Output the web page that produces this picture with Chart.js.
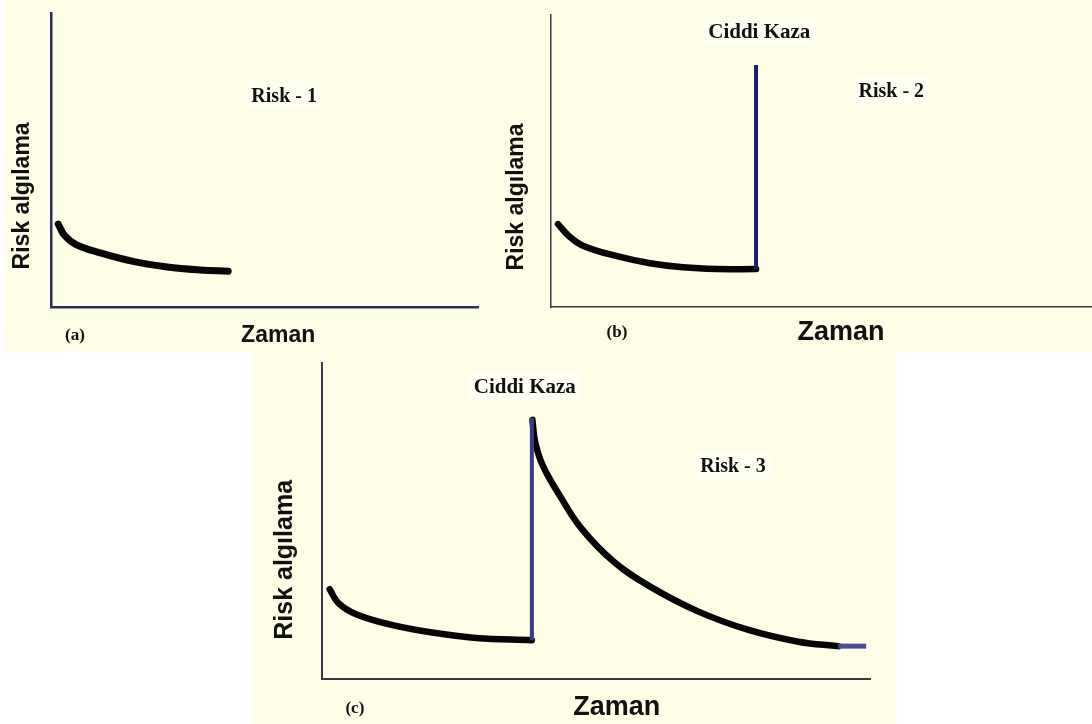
<!DOCTYPE html>
<html>
<head>
<meta charset="utf-8">
<script src="https://cdn.jsdelivr.net/npm/chart.js@4/dist/chart.umd.min.js"></script>
<style>
  html, body { margin: 0; padding: 0; background: #ffffff; width: 1092px; height: 724px; overflow: hidden; }
  .bg { position: absolute; background: #fefde6; }
  canvas { position: absolute; }
</style>
</head>
<body>
<div class="bg" style="left:5px;top:0;width:1087px;height:351px"></div>
<div class="bg" style="left:252px;top:351px;width:645px;height:373px"></div>
<canvas id="panelA" width="500" height="352" style="left:0;top:0"></canvas>
<canvas id="panelB" width="592" height="352" style="left:500px;top:0"></canvas>
<canvas id="panelC" width="650" height="372" style="left:250px;top:352px"></canvas>
<script>
// ------------------------
// Data (time 0-100 along the x axis, risk perception 0-100 up the y axis)
// ------------------------
const timeA = [1.7, 3.2, 6.0, 11.5, 19.2, 27.2, 34.9, 41.5];
const riskA = [28.2, 24.3, 21.1, 18.4, 15.5, 13.6, 12.6, 12.2];

const timeB = [1.3, 3.2, 5.9, 12.2, 18.3, 24.4, 30.7, 37.9];
const riskB = [28.4, 24.5, 21.0, 17.4, 15.0, 13.6, 13.0, 13.0];
const accidentTimeB = [37.9, 37.9];
const accidentRiskB = [13.0, 82.9];

const timeC1 = [1.4, 3.0, 6.1, 12.3, 20.1, 28.1, 38.3];
const riskC1 = [28.4, 24.0, 20.6, 17.3, 14.7, 13.0, 12.3];
const accidentTimeC = [38.3, 38.3];
const accidentRiskC = [12.3, 82.6];
const timeC2 = [38.4, 38.9, 40.3, 43.5, 47.4, 53.3, 59.8, 68.6, 77.7, 86.9, 94.2];
const riskC2 = [82.0, 75.0, 67.5, 57.7, 47.5, 37.0, 29.3, 21.4, 15.6, 11.8, 10.4];
const tailTimeC = [94.2, 99.3];
const tailRiskC = [10.4, 10.4];

// Texts
const yTitle = "Risk algılama";
const xTitle = "Zaman";
const accidentLabel = "Ciddi Kaza";
const riskLabels = ["Risk - 1", "Risk - 2", "Risk - 3"];
const panelTags = ["(a)", "(b)", "(c)"];

const SERIF = "'Liberation Serif', 'Times New Roman', serif";
const SANS = "'Liberation Sans', Arial, sans-serif";

const pts = (xs, ys) => xs.map((x, i) => ({ x: x, y: ys[i] }));

// ------------------------
// Text plugin: places labels through the chart scales
// ------------------------
const panelText = {
    id: "panelText",
    afterDraw(chart, args, opts) {
        const ctx = chart.ctx;
        const sx = chart.scales.x, sy = chart.scales.y;
        (opts.items || []).forEach(it => {
            const px = sx.getPixelForValue(it.x);
            const py = sy.getPixelForValue(it.y);
            ctx.save();
            ctx.font = it.font;
            ctx.fillStyle = it.color || "#111";
            ctx.textAlign = "center";
            ctx.textBaseline = it.rotate ? "middle" : "alphabetic";
            ctx.translate(px, py);
            if (it.rotate) ctx.rotate(-Math.PI / 2);
            if (it.box) {
                const w = ctx.measureText(it.text).width;
                ctx.fillStyle = "rgba(255,255,255,0.5)";
                ctx.fillRect(-w / 2 - 5, -20, w + 10, 27);
                ctx.fillStyle = it.color || "#111";
            }
            ctx.fillText(it.text, 0, 0);
            ctx.restore();
        });
    }
};

function makePanel(id, pad, axisColor, axisWidth, datasets, items) {
    const scaleBase = {
        type: "linear", min: 0, max: 100,
        grid: { display: false },
        ticks: { display: false },
        border: { display: true, color: axisColor, width: axisWidth }
    };
    return new Chart(document.getElementById(id), {
        type: "scatter",
        data: { datasets: datasets },
        options: {
            responsive: false,
            devicePixelRatio: 1,
            animation: false,
            layout: { padding: pad },
            scales: {
                x: Object.assign({}, scaleBase, { afterFit: s => { s.height = 0; } }),
                y: Object.assign({}, scaleBase, { afterFit: s => { s.width = 0; } })
            },
            plugins: {
                legend: { display: false },
                tooltip: { enabled: false },
                panelText: { items: items }
            }
        },
        plugins: [panelText]
    });
}

const curve = (data, width) => ({
    data: data, showLine: true, pointRadius: 0, borderColor: "#050505",
    borderWidth: width, borderCapStyle: "round", borderJoinStyle: "round",
    tension: 0.4, clip: false
});
const spike = (data, color, width) => ({
    data: data, showLine: true, pointRadius: 0, borderColor: color,
    borderWidth: width, borderCapStyle: "butt", tension: 0, clip: false
});

// ------------------------
// Panel (a)
// ------------------------
makePanel("panelA", { left: 51, right: 22, top: 13, bottom: 45 }, "#2c2c60", 2.5,
    [curve(pts(timeA, riskA), 7)],
    [
        { text: riskLabels[0], x: 54.6, y: 69.7, font: "bold 20px " + SERIF, box: true },
        { text: panelTags[0], x: 5.6, y: -11.2, font: "bold 17px " + SERIF },
        { text: xTitle, x: 53.2, y: -11.9, font: "bold 23px " + SANS },
        { text: yTitle, x: -6.6, y: 37.8, font: "bold 23px " + SANS, rotate: true }
    ]);

// ------------------------
// Panel (b)
// ------------------------
makePanel("panelB", { left: 51, right: 0, top: 15, bottom: 45 }, "#3a3a4a", 1.5,
    [
        spike(pts(accidentTimeB, accidentRiskB), "#1c1c72", 4),
        curve(pts(timeB, riskB), 6.5)
    ],
    [
        { text: accidentLabel, x: 38.5, y: 92.1, font: "bold 21px " + SERIF, box: true },
        { text: riskLabels[1], x: 62.9, y: 71.9, font: "bold 20px " + SERIF, box: true },
        { text: panelTags[1], x: 12.2, y: -10.3, font: "bold 17px " + SERIF },
        { text: xTitle, x: 53.6, y: -11.3, font: "bold 27px " + SANS },
        { text: yTitle, x: -6.3, y: 37.7, font: "bold 23px " + SANS, rotate: true }
    ]);

// ------------------------
// Panel (c)
// ------------------------
makePanel("panelC", { left: 72, right: 30, top: 11, bottom: 45 }, "#3a3a4a", 2,
    [
        spike(pts(accidentTimeC, accidentRiskC), "#3a3a88", 4),
        spike(pts(tailTimeC, tailRiskC), "#4a4a9c", 5),
        curve(pts(timeC1, riskC1), 6.5),
        curve(pts(timeC2, riskC2), 6.5)
    ],
    [
        { text: accidentLabel, x: 37.0, y: 90.5, font: "bold 21px " + SERIF, box: true },
        { text: riskLabels[2], x: 75.0, y: 65.5, font: "bold 20px " + SERIF, box: true },
        { text: panelTags[2], x: 6.0, y: -10.8, font: "bold 17px " + SERIF },
        { text: xTitle, x: 53.8, y: -11.4, font: "bold 27px " + SANS },
        { text: yTitle, x: -6.8, y: 37.7, font: "bold 25px " + SANS, rotate: true }
    ]);
</script>
</body>
</html>
